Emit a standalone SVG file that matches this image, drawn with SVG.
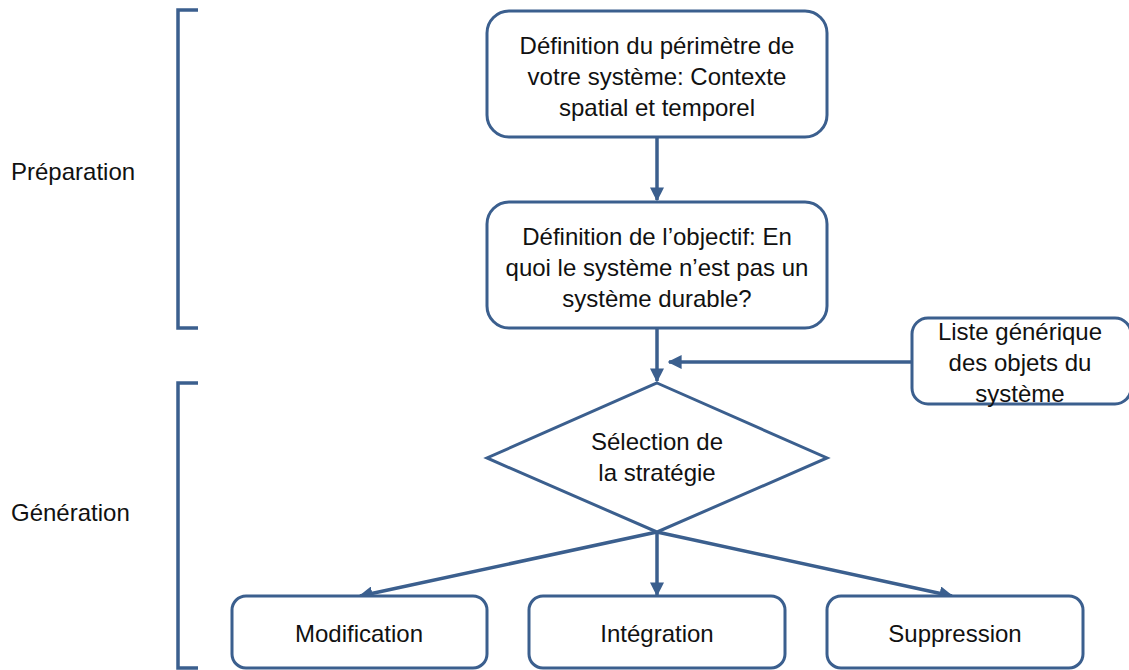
<svg xmlns="http://www.w3.org/2000/svg" width="1129" height="670" viewBox="0 0 1129 670">
<defs>
<style>
.box{fill:#fff;stroke:#3B5F8E;stroke-width:3}
.ln{fill:none;stroke:#3B5F8E;stroke-width:3.5}
.br{fill:none;stroke:#3B5F8E;stroke-width:3.5}
text{font-family:"Liberation Sans",Arial,sans-serif;font-size:24px;fill:#111;text-anchor:middle}
.lbl{text-anchor:start}
</style>
<marker id="ah" viewBox="0 0 10 10" refX="9" refY="5" markerWidth="4" markerHeight="4" orient="auto" markerUnits="strokeWidth">
<path d="M0,0 L10,5 L0,10 z" fill="#3B5F8E"/>
</marker>
</defs>
<rect width="1129" height="670" fill="#fff"/>
<g id="brackets">
<path class="br" d="M198,10 H178 V328 H198"/>
<path class="br" d="M198,383 H178 V668 H198"/>
</g>
<g id="label-preparation"><text class="lbl" x="11" y="180">Préparation</text></g>
<g id="label-generation"><text class="lbl" x="11" y="521">Génération</text></g>
<g id="connectors">
<line class="ln" x1="657" y1="137" x2="657" y2="200" marker-end="url(#ah)"/>
<line class="ln" x1="657" y1="328" x2="657" y2="381" marker-end="url(#ah)"/>
<line class="ln" x1="912" y1="362" x2="669" y2="362" marker-end="url(#ah)"/>
<line class="ln" x1="657" y1="532" x2="360" y2="596" marker-end="url(#ah)"/>
<line class="ln" x1="657" y1="532" x2="657" y2="595" marker-end="url(#ah)"/>
<line class="ln" x1="657" y1="532" x2="952" y2="596" marker-end="url(#ah)"/>
</g>
<g id="node-perimetre">
<rect class="box" x="487" y="11" width="340" height="126" rx="22"/>
<text x="657" y="54">Définition du périmètre de</text>
<text x="657" y="85">votre système: Contexte</text>
<text x="657" y="116">spatial et temporel</text>
</g>
<g id="node-objectif">
<rect class="box" x="487" y="202" width="340" height="126" rx="22"/>
<text x="657" y="245">Définition de l’objectif: En</text>
<text x="657" y="276">quoi le système n’est pas un</text>
<text x="657" y="307">système durable?</text>
</g>
<g id="node-liste">
<rect class="box" x="912" y="318" width="219" height="86" rx="16"/>
<text x="1020" y="340">Liste générique</text>
<text x="1020" y="371">des objets du</text>
<text x="1020" y="402">système</text>
</g>
<g id="node-strategie">
<polygon class="box" points="657,383 827,458 657,532 487,458"/>
<text x="657" y="450">Sélection de</text>
<text x="657" y="481">la stratégie</text>
</g>
<g id="node-modification">
<rect class="box" x="232" y="596" width="255" height="72" rx="14"/>
<text x="359" y="642">Modification</text>
</g>
<g id="node-integration">
<rect class="box" x="529" y="596" width="256" height="72" rx="14"/>
<text x="657" y="642">Intégration</text>
</g>
<g id="node-suppression">
<rect class="box" x="827" y="596" width="256" height="72" rx="14"/>
<text x="955" y="642">Suppression</text>
</g>
</svg>
